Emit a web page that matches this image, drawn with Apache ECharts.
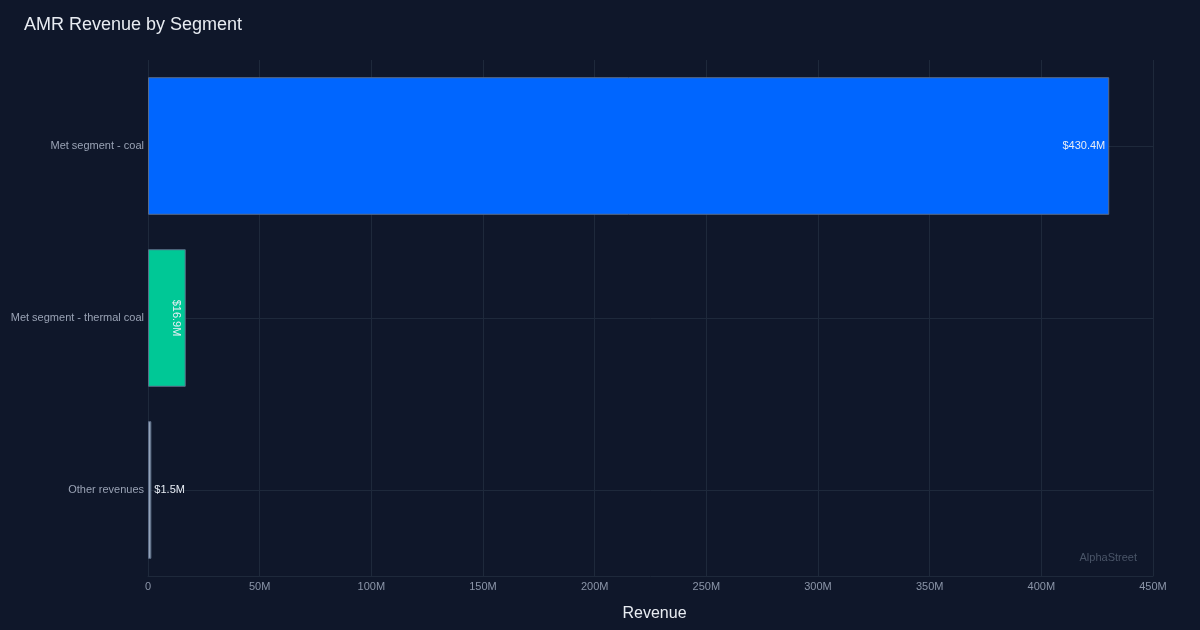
<!DOCTYPE html>
<html>
<head>
<meta charset="utf-8">
<script src="https://cdn.jsdelivr.net/npm/echarts@6/dist/echarts.min.js"></script>
<style>
html,body{margin:0;padding:0;background:#0f172a;}
#chart{width:1200px;height:630px;}
</style>
</head>
<body>
<div id="chart"></div>
<script>
const categories = ["Met segment - coal", "Met segment - thermal coal", "Other revenues"];
const revenue = [430.4, 16.9, 1.5];
const barColors = ["#0066ff", "#00c896", "#94a3b8"];
const xTicks = [0, 50, 100, 150, 200, 250, 300, 350, 400, 450];

const fmt = v => '$' + v.toFixed(1) + 'M';
const labelFor = [
  { show: true, position: 'insideRight', distance: 4, color: '#e8edf5', fontSize: 11 },
  { show: true, position: 'insideRight', distance: 4, rotate: -90, align: 'center', verticalAlign: 'top', color: '#e8edf5', fontSize: 11 },
  { show: true, position: 'right', distance: 3, color: '#e8edf5', fontSize: 11 }
];

const chart = echarts.init(document.getElementById('chart'));
chart.setOption({
  backgroundColor: '#0f172a',
  textStyle: { fontFamily: 'Liberation Sans, Arial, sans-serif' },
  title: {
    text: 'AMR Revenue by Segment',
    left: 19, top: 11,
    textStyle: { color: '#e8ecf2', fontSize: 18, fontWeight: 'normal', fontFamily: 'Liberation Sans, Arial, sans-serif' }
  },
  graphic: [{
    type: 'text', right: 63, top: 552,
    style: { text: 'AlphaStreet', fill: '#4a5568', fontSize: 11, fontFamily: 'Liberation Sans, Arial, sans-serif' }
  }],
  grid: { left: 148, right: 47, top: 60, bottom: 54, containLabel: false },
  xAxis: {
    type: 'value', min: xTicks[0], max: xTicks[xTicks.length - 1], interval: 50,
    name: 'Revenue', nameLocation: 'middle', nameGap: 30,
    nameTextStyle: { color: '#e8ecf2', fontSize: 16, padding: [0, 0, 0, 8] },
    axisLine: { show: true, lineStyle: { color: '#1e293b' } },
    axisTick: { show: false },
    axisLabel: { color: '#8b95a8', fontSize: 11, margin: 5, formatter: v => v === 0 ? '0' : v + 'M' },
    splitLine: { show: true, lineStyle: { color: '#1e293b', width: 1 } }
  },
  yAxis: {
    type: 'category', data: categories, inverse: true,
    axisLine: { show: false }, axisTick: { show: false },
    axisLabel: { color: '#9aa3b5', fontSize: 11, margin: 4 },
    splitLine: { show: false }
  },
  series: [{
    type: 'line',
    data: [],
    z: 1,
    silent: true,
    markLine: {
      z: 1,
      silent: true, symbol: 'none', label: { show: false },
      lineStyle: { color: '#1e293b', type: 'solid', width: 1 },
      data: categories.map(c => ({ yAxis: c }))
    }
  }, {
    type: 'bar',
    barWidth: '80%',
    z: 3,
    data: revenue.map((v, i) => ({
      value: v,
      itemStyle: { color: barColors[i], borderColor: '#5b6b86', borderWidth: 1 },
      label: labelFor[i]
    })),
    label: { formatter: p => fmt(p.value) }
  }]
});
</script>
</body>
</html>
